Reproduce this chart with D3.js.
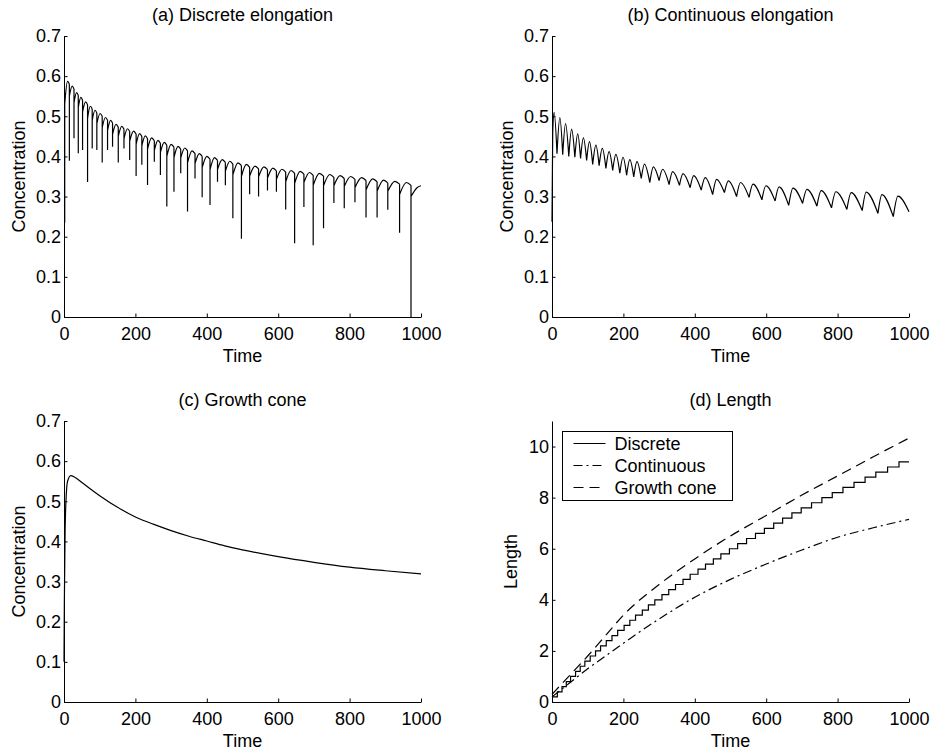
<!DOCTYPE html>
<html>
<head>
<meta charset="utf-8">
<script src="https://cdn.jsdelivr.net/npm/d3@7"></script>
<style>
  body { margin: 0; background: #fff; }
</style>
</head>
<body>
<div id="chart"></div>
<script>
const width = 933
const height = 751
const font = "'Liberation Sans', Arial, Helvetica, sans-serif"

const timeTicks = [0, 200, 400, 600, 800, 1000]
const concTicks = [0, 0.1, 0.2, 0.3, 0.4, 0.5, 0.6, 0.7]
const lengthTicks = [0, 2, 4, 6, 8, 10]
const legendNames = ['Discrete', 'Continuous', 'Growth cone']

// (a) discrete elongation: one entry per spike, arch that follows it
const discreteTimes = [2, 15, 28, 40, 52, 66, 79, 92, 107, 122, 136, 152, 168, 184, 202, 218, 234, 253, 270, 288, 308, 327, 346, 367, 387, 409, 430, 452, 473, 497, 520, 545, 570, 595, 621, 646, 672, 698, 727, 756, 785, 815, 846, 877, 907, 940, 972]
const discreteDips = [0.235, 0.389, 0.445, 0.408, 0.416, 0.336, 0.42, 0.416, 0.385, 0.416, 0.424, 0.385, 0.42, 0.391, 0.351, 0.379, 0.329, 0.387, 0.354, 0.275, 0.312, 0.358, 0.263, 0.345, 0.298, 0.279, 0.337, 0.328, 0.246, 0.195, 0.306, 0.3, 0.315, 0.312, 0.268, 0.184, 0.274, 0.179, 0.221, 0.284, 0.271, 0.286, 0.248, 0.248, 0.267, 0.21, 0]
const discreteRises = [0.53, 0.55, 0.534, 0.522, 0.511, 0.495, 0.49, 0.482, 0.472, 0.465, 0.455, 0.45, 0.444, 0.438, 0.43, 0.426, 0.418, 0.415, 0.41, 0.4, 0.397, 0.396, 0.384, 0.382, 0.372, 0.367, 0.367, 0.363, 0.354, 0.35, 0.351, 0.349, 0.346, 0.343, 0.337, 0.333, 0.335, 0.328, 0.327, 0.327, 0.325, 0.322, 0.316, 0.313, 0.313, 0.305, 0.3]
const discretePeaks = [0.587, 0.575, 0.559, 0.547, 0.536, 0.525, 0.515, 0.507, 0.497, 0.49, 0.48, 0.475, 0.469, 0.463, 0.457, 0.451, 0.446, 0.44, 0.435, 0.43, 0.425, 0.421, 0.414, 0.407, 0.4, 0.397, 0.392, 0.388, 0.384, 0.38, 0.376, 0.374, 0.371, 0.368, 0.365, 0.363, 0.36, 0.358, 0.355, 0.352, 0.35, 0.347, 0.344, 0.341, 0.338, 0.335, 0.322]
const discreteEnds = [0.58, 0.568, 0.552, 0.54, 0.529, 0.518, 0.508, 0.5, 0.49, 0.483, 0.473, 0.468, 0.462, 0.456, 0.45, 0.444, 0.439, 0.433, 0.428, 0.423, 0.418, 0.414, 0.407, 0.4, 0.393, 0.39, 0.385, 0.381, 0.377, 0.373, 0.369, 0.367, 0.364, 0.361, 0.358, 0.356, 0.353, 0.351, 0.348, 0.345, 0.343, 0.34, 0.337, 0.334, 0.331, 0.328, 0.327]

// (b) continuous elongation: peaks and troughs in order
const continuousTimes = [0, 2, 6, 14, 22, 30, 38, 47, 55, 64, 72, 80, 88, 97, 105, 114, 123, 132, 141, 151, 160, 170, 179, 190, 199, 209, 218, 229, 238, 250, 259, 274, 284, 300, 310, 328, 338, 357, 367, 387, 397, 418, 429, 450, 461, 483, 494, 517, 528, 552, 563, 588, 599, 625, 636, 663, 675, 702, 714, 742, 754, 783, 795, 826, 838, 869, 880, 913, 924, 956, 969, 1000]
const continuousValues = [0.237, 0.46, 0.51, 0.407, 0.497, 0.404, 0.482, 0.4, 0.468, 0.398, 0.456, 0.395, 0.446, 0.39, 0.437, 0.38, 0.428, 0.377, 0.42, 0.37, 0.412, 0.365, 0.405, 0.358, 0.398, 0.353, 0.392, 0.349, 0.387, 0.345, 0.381, 0.335, 0.374, 0.34, 0.368, 0.33, 0.362, 0.328, 0.357, 0.322, 0.352, 0.316, 0.347, 0.305, 0.343, 0.31, 0.339, 0.3, 0.335, 0.298, 0.331, 0.292, 0.327, 0.289, 0.324, 0.278, 0.321, 0.283, 0.318, 0.276, 0.315, 0.272, 0.312, 0.268, 0.31, 0.265, 0.311, 0.258, 0.305, 0.25, 0.301, 0.262]

// (c) growth cone
const growthTimes = [0, 1, 3, 6, 10, 19, 30, 50, 75, 100, 150, 200, 250, 300, 350, 400, 450, 500, 600, 700, 800, 900, 1000]
const growthValues = [0.1, 0.25, 0.42, 0.51, 0.55, 0.564, 0.56, 0.547, 0.53, 0.514, 0.485, 0.461, 0.443, 0.427, 0.413, 0.401, 0.389, 0.379, 0.362, 0.348, 0.336, 0.327, 0.319]

// (d) length
const discreteLengths = [0.2, 0.4, 0.6, 0.8, 1, 1.2, 1.4, 1.6, 1.8, 2, 2.2, 2.4, 2.6, 2.8, 3, 3.2, 3.4, 3.6, 3.8, 4, 4.2, 4.4, 4.6, 4.8, 5, 5.2, 5.4, 5.6, 5.8, 6, 6.2, 6.4, 6.6, 6.8, 7, 7.2, 7.4, 7.6, 7.8, 8, 8.2, 8.4, 8.6, 8.8, 9, 9.2, 9.4]
const lengthTimes = [0, 50, 100, 150, 200, 300, 400, 500, 600, 700, 800, 900, 1000]
const continuousLengths = [0.2, 0.75, 1.3, 1.8, 2.3, 3.25, 4.1, 4.8, 5.4, 5.95, 6.45, 6.82, 7.15]
const growthLengths = [0.3, 1.05, 1.8, 2.6, 3.4, 4.6, 5.6, 6.5, 7.3, 8.1, 8.85, 9.6, 10.33]

const svg = d3
  .select('#chart')
  .append('svg')
  .attr('width', width)
  .attr('height', height)
  .style('background', '#fff')

const concFormat = d => (d === 0 ? '0' : d3.format('.1f')(d))

const panels = [
  { title: '(a) Discrete elongation', ylabel: 'Concentration', left: 64, right: 421, top: 36, bottom: 317, yMax: 0.7, ticks: concTicks, format: concFormat, labelX: 25 },
  { title: '(b) Continuous elongation', ylabel: 'Concentration', left: 552, right: 909, top: 36, bottom: 317, yMax: 0.7, ticks: concTicks, format: concFormat, labelX: 513 },
  { title: '(c) Growth cone', ylabel: 'Concentration', left: 64, right: 421, top: 421, bottom: 702, yMax: 0.7, ticks: concTicks, format: concFormat, labelX: 25 },
  { title: '(d) Length', ylabel: 'Length', left: 552, right: 909, top: 421, bottom: 702, yMax: 11, ticks: lengthTicks, format: d3.format('d'), labelX: 517 }
]

function makePanel(p) {
  const x = d3.scaleLinear().domain([0, 1000]).range([p.left, p.right])
  const y = d3.scaleLinear().domain([0, p.yMax]).range([p.bottom, p.top])

  const xAxis = d3
    .axisBottom(x)
    .tickValues(timeTicks)
    .tickFormat(d3.format('d'))
    .tickSizeInner(-3.5)
    .tickSizeOuter(0)
    .tickPadding(10)
  svg
    .append('g')
    .attr('class', 'axis x-axis')
    .attr('transform', 'translate(0,' + p.bottom + ')')
    .call(xAxis)
    .attr('font-size', 18)
    .attr('font-family', font)

  const yAxis = d3
    .axisLeft(y)
    .tickValues(p.ticks)
    .tickFormat(p.format)
    .tickSizeInner(-3.5)
    .tickSizeOuter(0)
    .tickPadding(3)
  svg
    .append('g')
    .attr('class', 'axis y-axis')
    .attr('transform', 'translate(' + p.left + ',0)')
    .call(yAxis)
    .attr('font-size', 18)
    .attr('font-family', font)

  svg
    .append('text')
    .text(p.title)
    .attr('x', (p.left + p.right) / 2)
    .attr('y', p.top - 15)
    .attr('text-anchor', 'middle')
    .attr('font-size', 18)
    .attr('font-family', font)

  svg
    .append('text')
    .text('Time')
    .attr('x', (p.left + p.right) / 2)
    .attr('y', p.bottom + 45)
    .attr('text-anchor', 'middle')
    .attr('font-size', 18)
    .attr('font-family', font)

  svg
    .append('text')
    .text(p.ylabel)
    .attr('transform', 'translate(' + p.labelX + ',' + (p.top + p.bottom) / 2 + ') rotate(-90)')
    .attr('text-anchor', 'middle')
    .attr('font-size', 18)
    .attr('font-family', font)

  return { x, y }
}

const [pa, pb, pc, pd] = panels.map(makePanel)

function drawPath(d, dash) {
  svg
    .append('path')
    .attr('d', d)
    .attr('fill', 'none')
    .attr('stroke', '#000')
    .attr('stroke-width', 1.2)
    .attr('stroke-dasharray', dash || null)
}

// (a) spikes and arches
const archA = d3
  .line()
  .x(d => pa.x(d[0]))
  .y(d => pa.y(d[1]))
  .curve(d3.curveMonotoneX)
let pathA = ''
discreteTimes.forEach((t, i) => {
  const tNext = i < discreteTimes.length - 1 ? discreteTimes[i + 1] : 1000
  const top = i === 0 ? discreteRises[0] : Math.max(discreteEnds[i - 1], discreteRises[i])
  pathA += 'M' + pa.x(t) + ',' + pa.y(top) + 'L' + pa.x(t) + ',' + pa.y(discreteDips[i])
  pathA += archA([
    [t, discreteRises[i]],
    [t + 0.6 * (tNext - t), discretePeaks[i]],
    [tNext, discreteEnds[i]]
  ])
})
drawPath(pathA)

// (b) split at troughs so the minima stay sharp
const lineB = d3
  .line()
  .x(d => pb.x(d[0]))
  .y(d => pb.y(d[1]))
  .curve(d3.curveMonotoneX)
const pointsB = continuousTimes.map((t, i) => [t, continuousValues[i]])
let pathB = ''
let seg = [pointsB[0]]
for (let i = 1; i < pointsB.length; i++) {
  seg.push(pointsB[i])
  const isTrough = i < pointsB.length - 1 && pointsB[i][1] < pointsB[i - 1][1] && pointsB[i][1] < pointsB[i + 1][1]
  if (isTrough || i === pointsB.length - 1) {
    pathB += lineB(seg)
    seg = [pointsB[i]]
  }
}
drawPath(pathB)

// (c)
const lineC = d3
  .line()
  .x(d => pc.x(d[0]))
  .y(d => pc.y(d[1]))
  .curve(d3.curveMonotoneX)
drawPath(lineC(growthTimes.map((t, i) => [t, growthValues[i]])))

// (d)
const stepD = d3
  .line()
  .x(d => pd.x(d[0]))
  .y(d => pd.y(d[1]))
  .curve(d3.curveStepAfter)
const discreteSteps = discreteTimes.map((t, i) => [i === 0 ? 0 : t, discreteLengths[i]])
discreteSteps.push([1000, discreteLengths[discreteLengths.length - 1]])
drawPath(stepD(discreteSteps))

const lineD = d3
  .line()
  .x(d => pd.x(d[0]))
  .y(d => pd.y(d[1]))
  .curve(d3.curveMonotoneX)
const dashes = [null, '9,4,2,4', '10,6']
drawPath(lineD(lengthTimes.map((t, i) => [t, continuousLengths[i]])), dashes[1])
drawPath(lineD(lengthTimes.map((t, i) => [t, growthLengths[i]])), dashes[2])

// legend
const legend = svg.append('g').attr('transform', 'translate(562.5,431.5)')
legend
  .append('rect')
  .attr('width', 170)
  .attr('height', 69)
  .attr('fill', '#fff')
  .attr('stroke', '#000')
  .attr('stroke-width', 1)

legendNames.forEach((name, i) => {
  const cy = 12 + i * 22
  legend
    .append('line')
    .attr('x1', 11)
    .attr('x2', 43)
    .attr('y1', cy)
    .attr('y2', cy)
    .attr('stroke', '#000')
    .attr('stroke-width', 1.2)
    .attr('stroke-dasharray', dashes[i])
  legend
    .append('text')
    .text(name)
    .attr('x', 52)
    .attr('y', cy)
    .attr('dy', '0.35em')
    .attr('font-size', 18)
    .attr('font-family', font)
})
</script>
</body>
</html>
